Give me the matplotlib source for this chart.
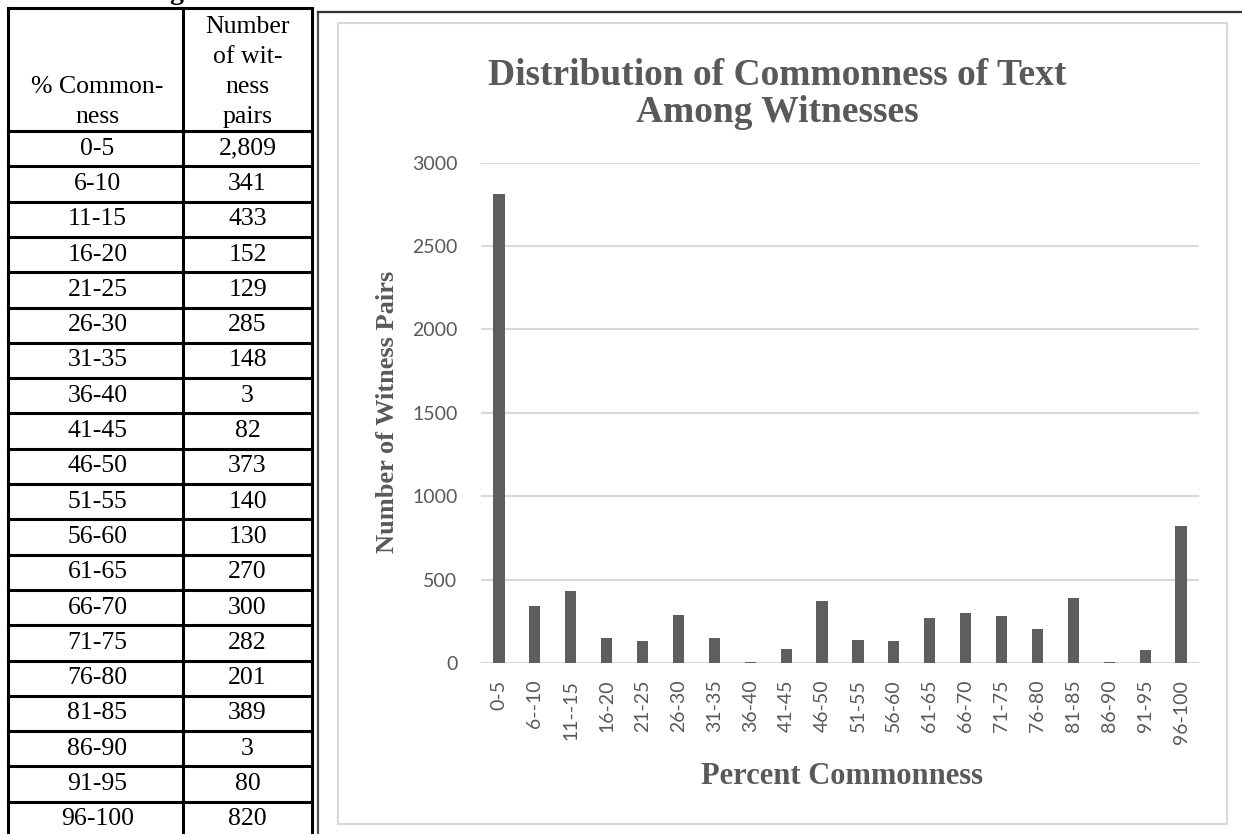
import matplotlib
matplotlib.use("Agg")
import matplotlib.pyplot as plt
from matplotlib.patches import Rectangle

# data: commonness ranges and number of witness pairs
ranges = ['0-5', '6-10', '11-15', '16-20', '21-25', '26-30', '31-35', '36-40',
          '41-45', '46-50', '51-55', '56-60', '61-65', '66-70', '71-75', '76-80',
          '81-85', '86-90', '91-95', '96-100']
chart_labels = ['0-5', '6--10', '11--15', '16-20', '21-25', '26-30', '31-35', '36-40',
                '41-45', '46-50', '51-55', '56-60', '61-65', '66-70', '71-75', '76-80',
                '81-85', '86-90', '91-95', '96-100']
pairs = [2809, 341, 433, 152, 129, 285, 148, 3, 82, 373,
         140, 130, 270, 300, 282, 201, 389, 3, 80, 820]
yticks = [0, 500, 1000, 1500, 2000, 2500, 3000]

W, H = 1242, 834
serif = 'Liberation Serif'
grey = '#595959'

fig = plt.figure(figsize=(W / 100, H / 100), dpi=100)

# background layer in pixel coordinates (table + chart frame)
bg = fig.add_axes([0, 0, 1, 1])
bg.set_xlim(0, W)
bg.set_ylim(H, 0)
bg.axis('off')

# heading letter running off the top edge above the table
bg.text(176, -1, 'g', fontsize=20, fontweight='bold', family=serif,
        ha='center', va='baseline', color='black', clip_on=False)

# --- table ---
tx0, tx1, tx2 = 8, 183, 312
ty0, hdr = 8, 131
rh = 35.3
lw_t = 2.2
n = len(ranges)
ybot = hdr + n * rh
bg.plot([tx0, tx2], [ty0, ty0], color='black', lw=lw_t, solid_capstyle='projecting')
for x in (tx0, tx1, tx2):
    bg.plot([x, x], [ty0, ybot], color='black', lw=lw_t)
for i in range(n + 1):
    y = hdr + i * rh
    bg.plot([tx0, tx2], [y, y], color='black', lw=lw_t)

c0 = (tx0 + tx1) / 2 + 2
c1 = (tx1 + tx2) / 2
fs_t = 18.5
for k, line in enumerate(['Number', 'of wit-', 'ness', 'pairs']):
    bg.text(c1, 27 + k * 30, line, family=serif, fontsize=fs_t,
            ha='center', va='center')
for k, line in enumerate(['% Common-', 'ness']):
    bg.text(c0, 87 + k * 30, line, family=serif, fontsize=fs_t,
            ha='center', va='center')
for i, (r, v) in enumerate(zip(ranges, pairs)):
    yc = hdr + (i + 0.5) * rh
    bg.text(c0, yc, r, family=serif, fontsize=fs_t, ha='center', va='center')
    bg.text(c1, yc, f'{v:,}', family=serif, fontsize=fs_t, ha='center', va='center')

# --- chart frame ---
bg.plot([318, 318], [12, H], color='#555555', lw=1.6)
bg.plot([318, W], [12, 12], color='#333333', lw=1.6)
bg.add_patch(Rectangle((338, 23), 1227 - 338, 824 - 23, fill=False,
                       edgecolor='#d9d9d9', lw=1.5))

# title
bg.text(777, 85, 'Distribution of Commonness of Text', family=serif,
        fontsize=27, fontweight='bold', color=grey, ha='center', va='baseline')
bg.text(777, 122, 'Among Witnesses', family=serif,
        fontsize=27, fontweight='bold', color=grey, ha='center', va='baseline')

# --- bar chart ---
ax = fig.add_axes([481 / W, 1 - 663 / H, 718 / W, 500.4 / H])
ax.patch.set_visible(False)
x = range(len(pairs))
ax.bar(x, pairs, width=0.31, color='#5e5e5e', zorder=3)
ax.set_xlim(-0.5, len(pairs) - 0.5)
ax.set_ylim(0, 3000)
ax.set_yticks(yticks)
ax.set_xticks(list(x))
ax.set_xticklabels(chart_labels, rotation=90, va='top', ha='center')
for y in yticks:
    ax.axhline(y, color='#d9d9d9', lw=1.5, zorder=1)
for s in ax.spines.values():
    s.set_visible(False)
ax.tick_params(axis='both', length=0, labelsize=14, labelcolor=grey)
ax.tick_params(axis='y', pad=17)
ax.tick_params(axis='x', pad=12)
for lab in ax.get_xticklabels() + ax.get_yticklabels():
    lab.set_family('Lato')

ax.text((387 - 481) / 718, (663 - 412) / 500.4, 'Number of Witness Pairs',
        transform=ax.transAxes, rotation=90, ha='center', va='center',
        family=serif, fontsize=19, fontweight='bold', color=grey)
bg.text(842, 777, 'Percent Commonness', family=serif, fontsize=22,
        fontweight='bold', color=grey, ha='center', va='center')

fig.savefig('out.png', dpi=100)
